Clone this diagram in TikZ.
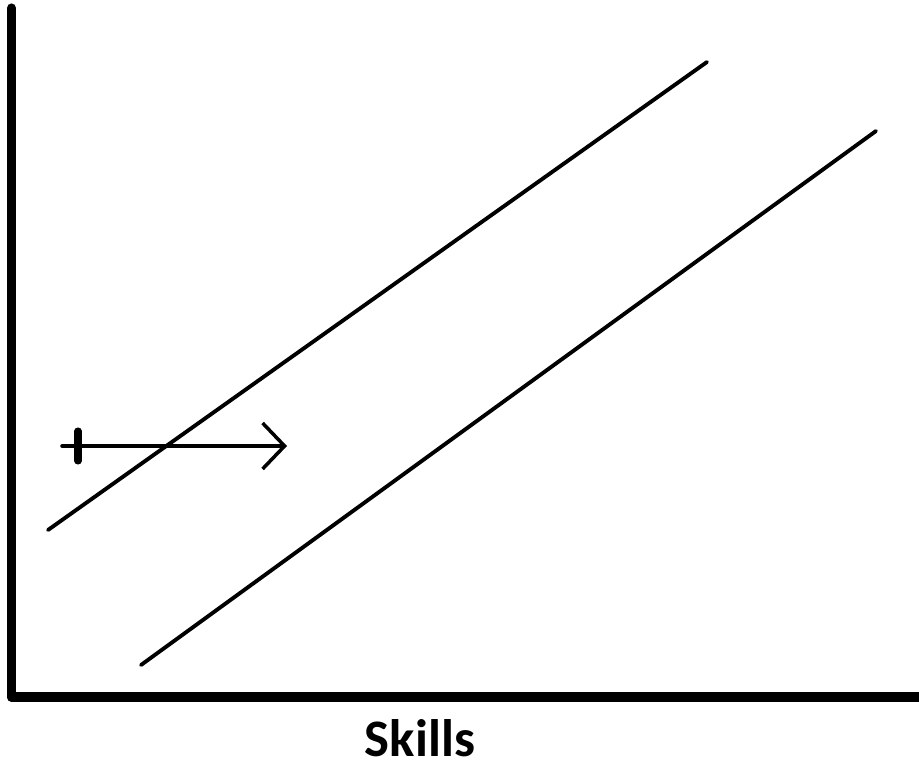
\documentclass[tikz,border=0pt]{standalone}
\usepackage{fontspec}
\setmainfont{Carlito}
\usepackage{tikz}
\usetikzlibrary{calc, arrows.meta}
\usepackage{tkz-euclide}

\begin{document}
\begin{tikzpicture}
            \useasboundingbox (0,0) rectangle (18.38,15.46);
            \tkzDefPoints{0.23/1.52/O, 0.23/15.30/Y, 18.5/1.52/X}
            \tkzDefPoints{0.96/4.86/A, 14.14/14.22/B, 2.82/2.16/C, 17.52/12.84/D}
            \tkzDefPoints{1.24/6.54/E, 5.74/6.54/F, 1.56/6.24/T_1, 1.56/6.84/T_2}
            \tkzDefPoints{8.40/0.70/L}
            \tkzDrawSegments[black, line width=5.2pt, line cap=round](O,Y)
            \tkzDrawSegments[black, line width=5.2pt](O,X)
            \tkzDrawSegments[black, line width=2.2pt](A,B C,D)
            \tkzDrawSegments[black, line width=2pt, -{Straight Barb[length=4.4mm, width=9.2mm]}](E,F)
            \tkzDrawSegments[black, line width=4pt, line cap=round](T_1,T_2)
            \node[font=\bfseries\fontsize{30}{36}\selectfont] (skills) at (L) {Skills};
        \end{tikzpicture}
\end{document}
